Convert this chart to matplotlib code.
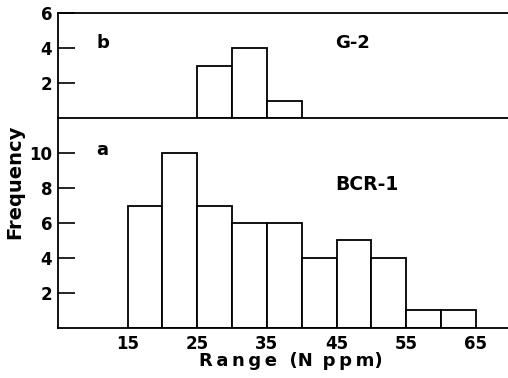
import numpy as np
from matplotlib import pyplot as plt

# bin edges (N ppm) and counts
bin_left = np.arange(15, 65, 5)
bcr1_counts = [7, 10, 7, 6, 6, 4, 5, 4, 1, 1]
g2_left = [25, 30, 35]
g2_counts = [3, 4, 1]
xtick_vals = [15, 25, 35, 45, 55, 65]

plt.rcParams['font.family'] = 'DejaVu Sans'
plt.rcParams['font.weight'] = 'bold'

fig = plt.figure(figsize=(5.08, 3.78), dpi=100)
ax_b = fig.add_axes([0.114, 0.6878, 0.886, 0.2778])
ax_a = fig.add_axes([0.114, 0.1323, 0.886, 0.5555])

for ax in (ax_a, ax_b):
    ax.set_xlim(5, 69.6)
    ax.spines['right'].set_visible(False)
    for s in ax.spines.values():
        s.set_linewidth(1.3)
    ax.tick_params(axis='y', direction='in', length=12, width=1.2, labelsize=12, pad=4)
    ax.tick_params(axis='x', length=0, labelsize=12, pad=5)

ax_b.bar(g2_left, g2_counts, width=5, align='edge', color='white', edgecolor='black', linewidth=1.3)
ax_b.set_ylim(0, 6)
ax_b.set_yticks([2, 4, 6])
ax_b.set_xticks([])
ax_b.spines['bottom'].set_visible(False)
ax_b.text(10.5, 4.3, 'b', fontsize=13, va='center')
ax_b.text(44.8, 4.3, 'G-2', fontsize=13, va='center')

ax_a.bar(bin_left, bcr1_counts, width=5, align='edge', color='white', edgecolor='black', linewidth=1.3)
ax_a.set_ylim(0, 12)
ax_a.set_yticks([2, 4, 6, 8, 10])
ax_a.set_xticks(xtick_vals)
ax_a.text(10.5, 10.2, 'a', fontsize=13, va='center')
ax_a.text(44.8, 8.2, 'BCR-1', fontsize=13.5, va='center')

xlab = '\u2009'.join('Range') + '  (N\u2009 ' + '\u2009'.join('ppm') + ')'
fig.text(0.573, 0.045, xlab, ha='center', va='center', fontsize=13, fontweight='bold')
fig.text(0.03, 0.52, 'Frequency', rotation=90, ha='center', va='center', fontsize=14, fontweight='bold')

fig.savefig('out.png', dpi=100)
